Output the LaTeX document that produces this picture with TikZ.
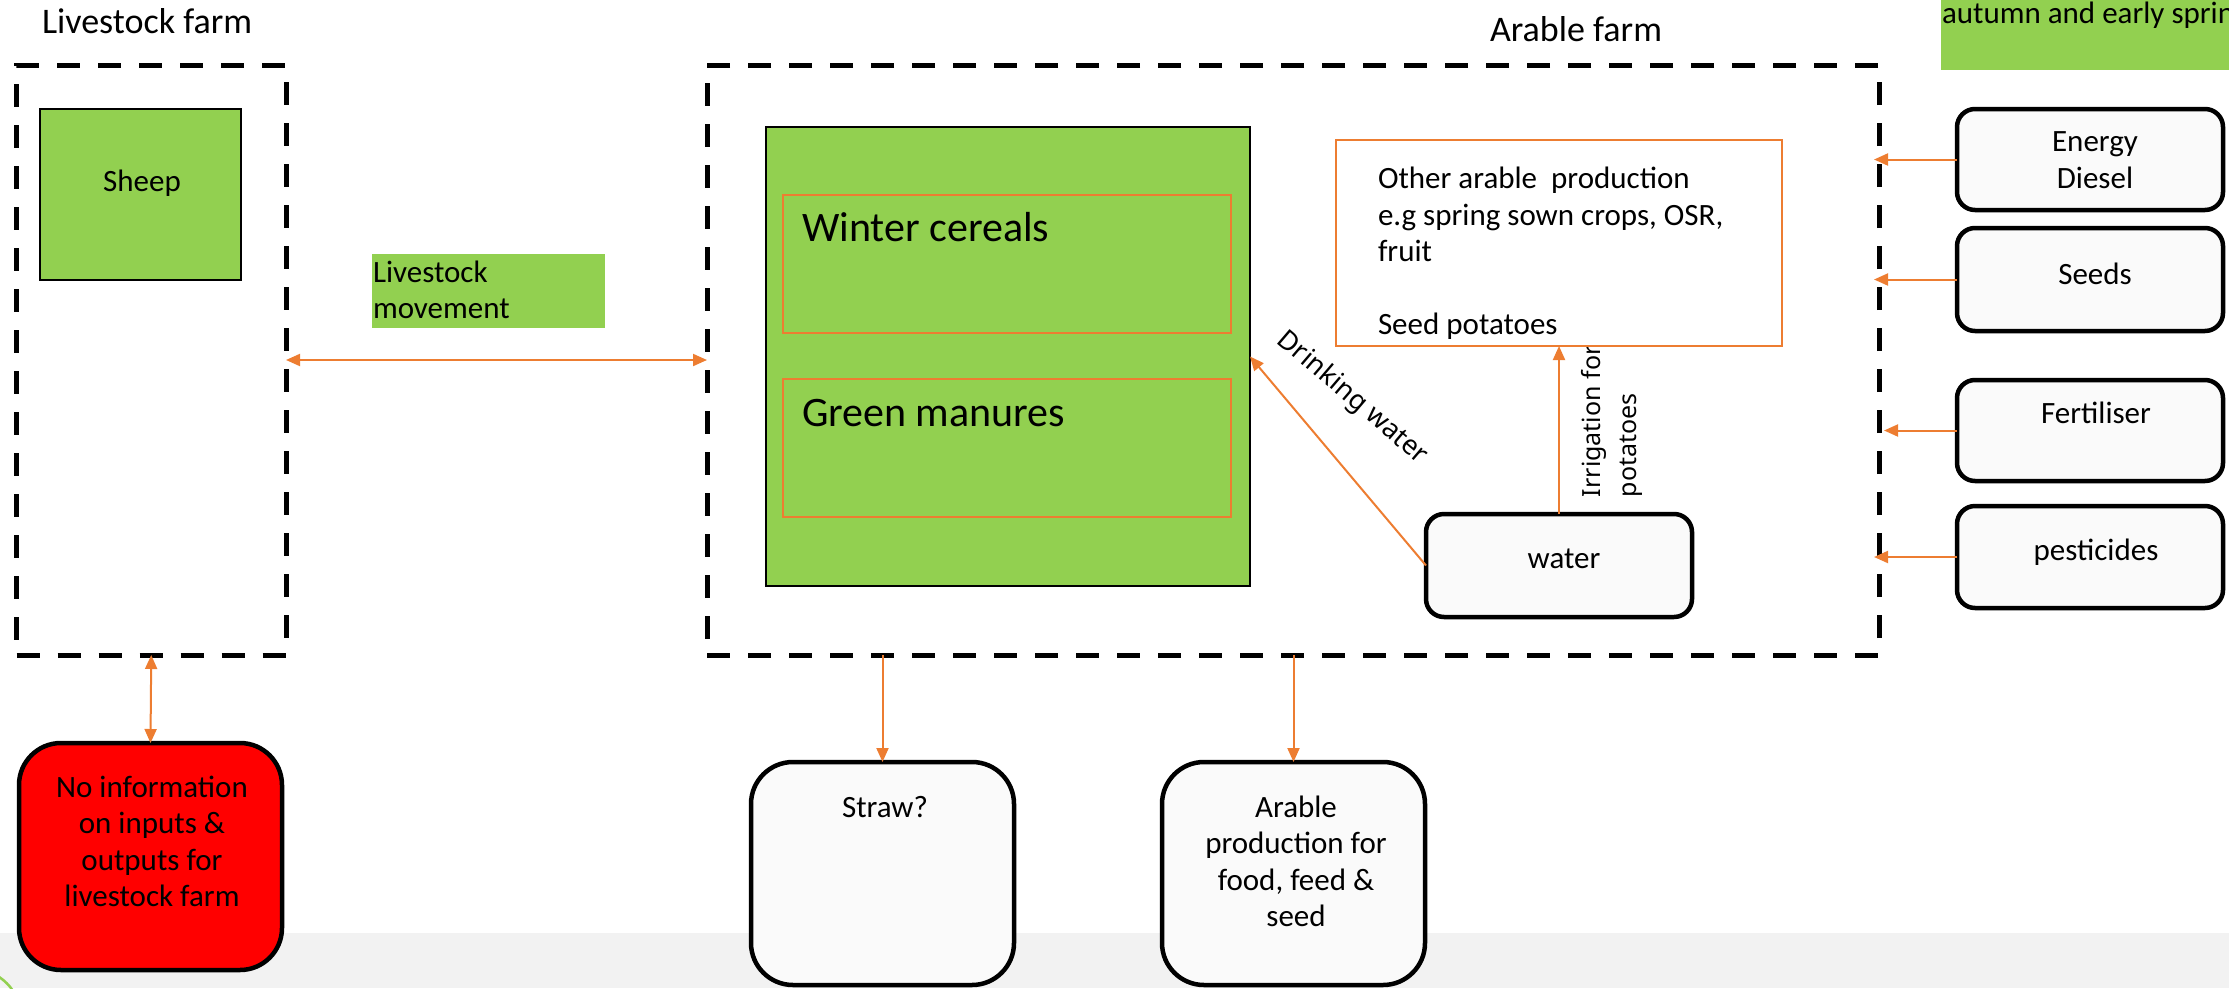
\documentclass[tikz,border=0pt]{standalone}
\usepackage{fontspec}
\setmainfont{Carlito}
\newfontfamily\notosans{Noto Sans}
\usetikzlibrary{arrows.meta}
\definecolor{leaf}{HTML}{92D050}
\definecolor{flow}{HTML}{ED7D31}
\definecolor{paper}{HTML}{FAFAFA}
\definecolor{band}{HTML}{F2F2F2}
\newcommand\ctrlines[1]{\vtop{\halign{\hfil##\hfil\cr#1\crcr}}}
\newcommand\leftlines[1]{\vtop{\halign{##\hfil\cr#1\crcr}}}
\begin{document}
\begin{tikzpicture}[x=1pt,y=-1pt,
  txt/.style={inner sep=0pt, outer sep=0pt, font=\fontsize{31}{36.5}\selectfont},
  bigtxt/.style={inner sep=0pt, outer sep=0pt, font=\fontsize{42}{48}\selectfont},
  titletxt/.style={inner sep=0pt, outer sep=0pt, font=\fontsize{36}{42}\selectfont},
  sidetxt/.style={inner sep=0pt, outer sep=0pt, font=\notosans\fontsize{25}{36}\selectfont},
  dashbox/.style={draw=black, line width=5pt, dash pattern=on 23pt off 18pt, inner sep=0pt, outer sep=0pt},
  greenbox/.style={fill=leaf, draw=black, line width=2.5pt, inner sep=0pt, outer sep=0pt},
  subbox/.style={draw=flow, line width=1.2pt, inner sep=0pt, outer sep=0pt},
  otherbox/.style={draw=flow, fill=white, line width=1.5pt, inner sep=0pt, outer sep=0pt},
  inbox/.style={draw=black, fill=paper, line width=4.5pt, rounded corners=18pt, inner sep=0pt, outer sep=0pt},
  tallbox/.style={draw=black, fill=paper, line width=4.5pt, rounded corners=42pt, inner sep=0pt, outer sep=0pt},
  flowarr/.style={draw=flow, line width=2pt, -{Triangle[length=14pt,width=12pt]}},
  flowboth/.style={draw=flow, line width=2pt, {Triangle[length=14pt,width=12pt]}-{Triangle[length=14pt,width=12pt]}}
]
\useasboundingbox (0,0) rectangle (2229,988);
\fill[band] (0,933) rectangle (2229,988);
\begin{scope}
\clip (0,0) rectangle (2229,988);
\draw[leaf, line width=2.5pt] (-30,1020) circle[radius=52];
\node[fill=leaf, minimum width=300pt, minimum height=90pt, anchor=south west, inner sep=0pt] (seasonbox) at (1941,70) {};
\node[txt, anchor=base west] (seasontext) at (1942,23) {autumn and early spring};
\end{scope}

% titles
\node[titletxt, anchor=base west] (livetitle) at (42,33.5) {Livestock farm};
\node[titletxt, anchor=base west] (arabletitle) at (1490,41) {Arable farm};

% farm outlines
\node[dashbox, minimum width=269.5pt, minimum height=590pt] (live) at (151.25,360) {};
\node[dashbox, minimum width=1172pt, minimum height=590pt] (arable) at (1293,360) {};

% livestock farm content
\node[greenbox, minimum width=201pt, minimum height=171pt] (sheep) at (140.5,194.5) {};
\node[txt, anchor=base] (sheeptext) at (142,191) {Sheep};

% livestock movement label
\node[fill=leaf, minimum width=233pt, minimum height=74pt, inner sep=0pt] (movebox) at (488.5,291) {};
\node[txt, anchor=base west] (movetext) at (373,282) {\leftlines{Livestock\cr movement}};

% arable farm content
\node[greenbox, minimum width=484pt, minimum height=459pt] (big) at (1008,356.5) {};
\node[subbox, minimum width=448pt, minimum height=138pt] (winter) at (1007,264) {};
\node[subbox, minimum width=448pt, minimum height=138pt] (manure) at (1007,448) {};
\node[bigtxt, anchor=base west] (wintertext) at (802,241) {Winter cereals};
\node[bigtxt, anchor=base west] (manuretext) at (802,426) {Green manures};

\node[otherbox, minimum width=446pt, minimum height=206pt] (other) at (1559,243) {};
\node[txt, anchor=base west] (othertext) at (1378,188.5)
  {\leftlines{Other arable\ \ production\cr e.g spring sown crops, OSR,\cr fruit\cr\cr Seed potatoes}};

\node[inbox, minimum width=266pt, minimum height=103pt] (water) at (1559,565.5) {};
\node[txt, anchor=base] (watertext) at (1564,568) {water};

% inputs
\node[inbox, minimum width=266pt, minimum height=101pt] (energy) at (2090,159.5) {};
\node[inbox, minimum width=266pt, minimum height=103pt] (seeds) at (2090,279.5) {};
\node[inbox, minimum width=266pt, minimum height=101pt] (fert) at (2090,430.5) {};
\node[inbox, minimum width=266pt, minimum height=102pt] (pest) at (2090,557) {};
\node[txt, anchor=base] (energytext) at (2095,151.5) {\ctrlines{Energy\cr Diesel}};
\node[txt, anchor=base] (seedstext) at (2095,284) {Seeds};
\node[txt, anchor=base] (ferttext) at (2096,423) {Fertiliser};
\node[txt, anchor=base] (pesttext) at (2096,560) {pesticides};

% outputs
\node[tallbox, fill=red, minimum width=263pt, minimum height=227pt] (noinfo) at (150.5,856.5) {};
\node[txt, anchor=base] (noinfotext) at (152,797) {\ctrlines{No information\cr on inputs \&\cr outputs for\cr livestock farm}};
\node[tallbox, minimum width=263pt, minimum height=223pt] (straw) at (882.5,873.5) {};
\node[txt, anchor=base] (strawtext) at (885,817) {Straw?};
\node[tallbox, minimum width=263pt, minimum height=223pt] (food) at (1293.5,873.5) {};
\node[txt, anchor=base] (foodtext) at (1296,817) {\ctrlines{Arable\cr production for\cr food, feed \&\cr seed}};

% connectors
\draw[flowboth] (live.east) -- (arable.west);
\draw[flowboth] (live.south) -- (noinfo.north);
\draw[flowarr] (straw.north |- arable.south) -- (straw.north);
\draw[flowarr] (food.north |- arable.south) -- (food.north);
\draw[flowarr] (energy.west) -- ([xshift=-5pt]energy.west -| arable.east);
\draw[flowarr] (seeds.west) -- ([xshift=-5pt]seeds.west -| arable.east);
\draw[flowarr] (fert.west) -- ([xshift=5pt]fert.west -| arable.east);
\draw[flowarr] (pest.west) -- ([xshift=-5pt]pest.west -| arable.east);
\draw[flowarr] (water.west) -- (big.east);
\draw[flowarr] (water.north) -- (water.north |- other.south);

% connector labels
\node[sidetxt, font=\notosans\fontsize{27}{36}\selectfont, rotate=-40.5] (drinktext) at (1352,398) {Drinking water};
\node[sidetxt, rotate=90, anchor=base west] (irrigtext) at (1600,497) {\leftlines{Irrigation for\cr potatoes}};
% box edge drawn over the label as in the reference
\draw[flow, line width=1.5pt] (other.south west) -- (other.south east);
\end{tikzpicture}
\end{document}
